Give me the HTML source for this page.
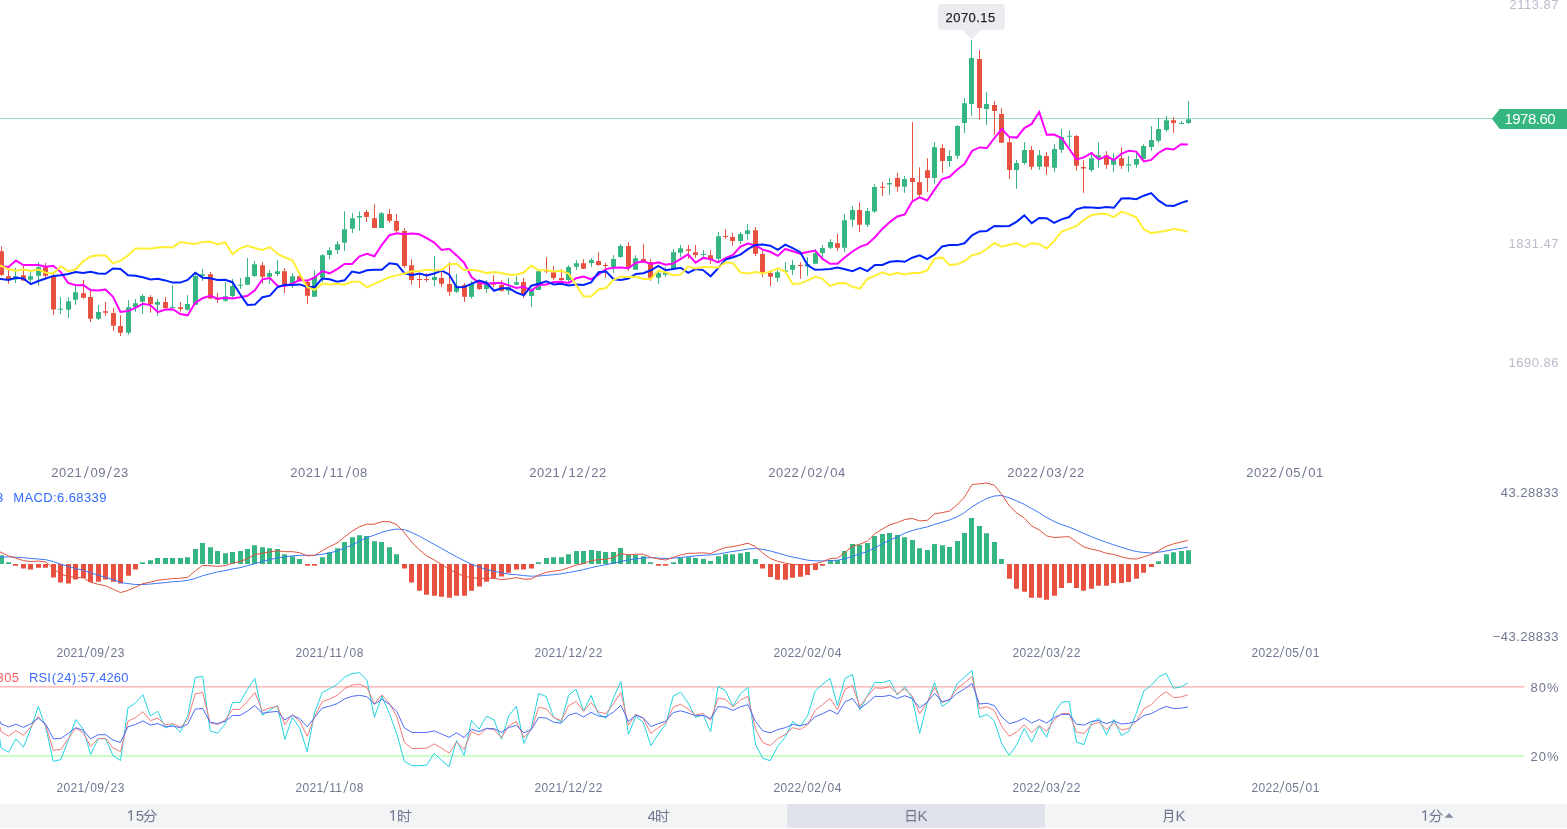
<!DOCTYPE html>
<html><head><meta charset="utf-8"><title>K-line</title>
<style>
html,body{margin:0;padding:0;background:#fff;overflow:hidden}
body{width:1567px;height:829px;position:relative;font-family:"Liberation Sans",sans-serif}
svg{position:absolute;left:0;top:0;display:block;will-change:transform}
svg text{font-family:"Liberation Sans",sans-serif}
</style></head>
<body>
<svg width="1567" height="829" viewBox="0 0 1567 829">
<path d="M15.5 268V283M30.5 272.1V284.2M38.5 262.1V285.8M60.5 297.1V313.9M68.5 297.1V317.9M75.5 286.2V304.9M98.5 305.1V320M128.5 300.2V334.7M135.5 299.2V311.7M142.5 294.1V313.9M157.5 299.2V315.8M172.5 285.1V308.1M187.5 295.1V310.7M195.5 272.1V305.1M202.5 269.1V280.8M225.5 282.1V301.9M232.5 279V297.8M240.5 278V288.9M247.5 258.2V285M254.5 261.1V277.1M269.5 270.1V283.8M277.5 260.1V276.1M292.5 273.1V288M314.5 270.1V296.8M322.5 254.2V281.8M329.5 247.1V259.1M337.5 241.2V254M344.5 211.3V250.9M352.5 213.2V233M359.5 211.3V230.9M381.5 212.1V227.9M434.5 256V285.9M456.5 274.2V293M471.5 281.2V298.8M486.5 280.2V293M508.5 278V294.9M516.5 276.2V284.8M531.5 288.2V306.8M538.5 269.1V289.9M568.5 265.2V281.8M576.5 260.1V269.9M591.5 258.2V266.8M613.5 255.2V272.9M620.5 244.1V257.8M635.5 255.2V269.7M658.5 271.6V283.8M665.5 267.1V276.7M673.5 249.2V269.1M680.5 245V256.9M703.5 250.1V256.9M718.5 232V261.1M740.5 232V243.9M747.5 224V239.9M777.5 270.1V281.8M785.5 262.1V273.9M792.5 260.2V274.9M807.5 257.1V275.8M815.5 249.2V263.8M822.5 245.1V257M830.5 239.1V249M844.5 214.2V251.9M852.5 206.3V227M867.5 208.2V227M874.5 184.1V212.9M889.5 178.1V194.7M904.5 176.2V192.8M934.5 142.1V183.9M949.5 150.2V167M957.5 125.2V158.9M964.5 98.2V133M971.5 40.1V115.8M986.5 92.2V124.9M1016.5 160.1V188.8M1024.5 142.2V164.8M1039.5 150.1V169.9M1054.5 144.2V171.8M1061.5 129.1V152.9M1069.5 130.2V146.9M1091.5 153.9V171.8M1098.5 142.2V167.7M1113.5 153.2V171.8M1128.5 156.1V171.8M1136.5 153.2V167.7M1143.5 144.2V159.1M1151.5 126.2V150.7M1158.5 118.1V142.8M1166.5 116.1V131.9M1181.5 121.1V123.9M1188.5 101.3V123.9" stroke="#35b581" stroke-width="1" fill="none"/>
<path d="M1.5 246.3V275.9M8.5 269.3V283.8M23.5 265.7V280.8M45.5 262.9V277.8M53.5 272.1V314.9M83.5 280V298.7M90.5 290V322M105.5 302V315.8M113.5 308.1V330.9M120.5 315.2V336M150.5 295.1V312.7M165.5 297.1V308.9M180.5 302V311.7M210.5 272V299.1M217.5 293V302.9M262.5 262.1V283.8M284.5 268.2V293M299.5 272.3V281.8M307.5 279.3V303.8M366.5 210V222M374.5 204.1V227.9M389.5 209.2V223M396.5 214.1V232.6M404.5 228.1V267.8M411.5 259.1V284.8M419.5 273.5V288M426.5 273.1V281.8M441.5 270.1V287M449.5 262.1V295.9M464.5 283.1V301.9M479.5 279.9V289.9M493.5 275.2V287M501.5 280.2V291.8M523.5 278V297.8M546.5 257.2V273.1M553.5 266.1V279.9M561.5 269.1V281.2M583.5 259.1V269.1M598.5 252.2V265.9M605.5 262.9V277.7M628.5 242.2V270.7M643.5 244.1V262.7M650.5 259.1V280.8M688.5 245V258.8M695.5 245V257.8M710.5 250.1V263.9M725.5 229.2V238.7M732.5 233V245.8M755.5 227.1V256M762.5 250.5V277M770.5 270.1V285.9M800.5 262.1V278.8M837.5 234.1V250.9M859.5 202.3V232.1M882.5 182V196M897.5 173V191.8M912.5 122.1V202M919.5 167.3V197.6M927.5 158.2V191.8M942.5 144.2V173M979.5 50.1V119.8M994.5 101.1V134.8M1001.5 108.2V142.7M1009.5 138V178.9M1031.5 146V169.9M1046.5 152.1V174.8M1076.5 135V170.8M1083.5 160.1V192.9M1106.5 151.1V168.9M1121.5 147.2V168.9M1173.5 117.1V132.8" stroke="#e8503f" stroke-width="1" fill="none"/>
<path d="M13 276.3h5V279.4h-5zM28 276.3h5V279.8h-5zM36 267.2h5V275.7h-5zM58 308.8h5V309.8h-5zM66 301.2h5V309.8h-5zM73 292.2h5V299.8h-5zM96 312.1h5V318.8h-5zM126 307.3h5V332.8h-5zM133 303.2h5V307.3h-5zM140 296.1h5V301.8h-5zM155 302.1h5V304.8h-5zM170 306.9h5V307.9h-5zM185 304.1h5V309.8h-5zM193 275.9h5V304.7h-5zM200 274.2h5V275.7h-5zM223 296.2h5V300.8h-5zM230 285.9h5V295.9h-5zM238 284.7h5V285.7h-5zM245 277.1h5V284.8h-5zM252 264.2h5V276.1h-5zM267 273.1h5V276.7h-5zM275 271.2h5V273.9h-5zM290 276.2h5V283.8h-5zM312 277.1h5V296.8h-5zM320 255.2h5V277.7h-5zM327 250.3h5V255h-5zM335 244.2h5V249.9h-5zM342 229.2h5V242.8h-5zM350 218.2h5V228.8h-5zM357 216.1h5V217.6h-5zM379 213.2h5V227.9h-5zM432 277.1h5V279.9h-5zM454 285.9h5V291.8h-5zM469 283.8h5V296.8h-5zM484 282.5h5V288.9h-5zM506 287.3h5V290.8h-5zM514 282.2h5V284.8h-5zM529 289.9h5V295.9h-5zM536 271.2h5V289.9h-5zM566 267.1h5V279.9h-5zM574 263.2h5V266.8h-5zM589 260.1h5V262.9h-5zM611 259.1h5V267.1h-5zM618 246h5V256.9h-5zM633 258.2h5V269.7h-5zM656 273.1h5V277.7h-5zM663 272.3h5V274.8h-5zM671 252.2h5V268.4h-5zM678 248.2h5V252.8h-5zM701 254h5V255h-5zM716 236.2h5V258.8h-5zM738 234.1h5V240.9h-5zM745 230.2h5V233.9h-5zM775 272.3h5V277.7h-5zM783 270.4h5V271.7h-5zM790 265.1h5V269.8h-5zM805 264.1h5V266.6h-5zM813 253.2h5V263.8h-5zM820 248.1h5V252.9h-5zM828 242.1h5V247.8h-5zM842 220.2h5V247.8h-5zM850 210.1h5V219.7h-5zM865 211.1h5V224.8h-5zM872 187.1h5V211.6h-5zM887 183h5V184.5h-5zM902 179h5V186.8h-5zM932 147.2h5V177.9h-5zM947 156.1h5V160.9h-5zM955 126.1h5V155.7h-5zM962 103.3h5V122.9h-5zM969 58h5V104.1h-5zM984 104.1h5V108.9h-5zM1014 163.1h5V169.9h-5zM1022 150.1h5V162.9h-5zM1037 155.2h5V166.7h-5zM1052 149.1h5V167.7h-5zM1059 137.1h5V149.7h-5zM1067 135.8h5V136.8h-5zM1089 158.2h5V169.9h-5zM1096 155.2h5V157.8h-5zM1111 160.1h5V164.8h-5zM1126 164.2h5V165.4h-5zM1134 159.1h5V164.8h-5zM1141 146h5V159.1h-5zM1149 140.1h5V146.9h-5zM1156 129.1h5V140.8h-5zM1164 120.2h5V129.9h-5zM1179 122.9h5V123.9h-5zM1186 119.2h5V123h-5z" fill="#35b581"/>
<path d="M-1 251.2h5V274.9h-5zM6 276.3h5V279.1h-5zM21 275.3h5V280.4h-5zM43 267.2h5V275.7h-5zM51 276.2h5V309.6h-5zM81 293.2h5V297.7h-5zM88 297.1h5V318.8h-5zM103 311.2h5V312.7h-5zM111 313h5V325.8h-5zM118 326h5V332.8h-5zM148 297.1h5V304.1h-5zM163 302.1h5V307.9h-5zM178 307.3h5V308.9h-5zM208 274.2h5V298.5h-5zM215 297.8h5V299.7h-5zM260 265.2h5V276.7h-5zM282 271.2h5V285.7h-5zM297 276.2h5V280.6h-5zM305 282.1h5V295.7h-5zM364 212.1h5V216.9h-5zM372 218.2h5V227.9h-5zM387 214.1h5V220.8h-5zM394 221.1h5V230.7h-5zM402 231.1h5V265.9h-5zM409 265.2h5V279.9h-5zM417 279h5V280h-5zM424 279h5V280h-5zM439 278h5V283.8h-5zM447 284h5V291.8h-5zM462 285h5V296.8h-5zM477 282.5h5V288.9h-5zM491 283.7h5V284.7h-5zM499 285h5V290.8h-5zM521 282.1h5V294.9h-5zM544 270.1h5V271.6h-5zM551 272.3h5V278h-5zM559 278h5V279.9h-5zM581 263.2h5V268.8h-5zM596 261.1h5V265h-5zM603 264.9h5V265.9h-5zM626 246h5V267.8h-5zM641 259.1h5V262h-5zM648 262.1h5V277.7h-5zM686 249.2h5V250.8h-5zM693 252.2h5V255h-5zM708 255.2h5V259.8h-5zM723 236.1h5V237.1h-5zM730 237.1h5V240.9h-5zM753 230.2h5V253.7h-5zM760 254.1h5V272h-5zM768 273.1h5V276.7h-5zM798 265h5V266h-5zM835 243.2h5V247.8h-5zM857 210.1h5V224.8h-5zM880 186.8h5V187.8h-5zM895 178.1h5V186.8h-5zM910 178.1h5V182h-5zM917 182.2h5V194.7h-5zM925 170.2h5V177.9h-5zM940 148.1h5V160.9h-5zM977 59.1h5V107.9h-5zM992 105.1h5V110.9h-5zM999 114h5V142.7h-5zM1007 142.2h5V169.9h-5zM1029 150.1h5V166.7h-5zM1044 156.1h5V166.7h-5zM1074 136h5V165.8h-5zM1081 167.1h5V168.6h-5zM1104 155.2h5V164.8h-5zM1119 158.2h5V165.8h-5zM1171 120.2h5V123h-5z" fill="#e8503f"/>
<rect x="0" y="118" width="1500" height="1" fill="#35b581" fill-opacity="0.5"/>
<polyline points="-6.5,266.3 1,266.3 8.5,267 15.9,260.6 23.4,265.1 30.9,265.1 38.3,265.1 45.8,266.7 53.3,265.7 60.8,272.1 68.2,283 75.7,285.3 83.2,284.9 90.6,290 98.1,290.6 105.6,289.6 113,296.8 120.5,312 128,311.1 135.4,307.9 142.9,303.7 150.4,305.1 157.8,312.1 165.3,309.6 172.8,309.2 180.3,314 187.7,315.3 195.2,302.8 202.7,298.2 210.1,295.7 217.6,298.7 225.1,297.8 232.5,298.5 240,297.2 247.5,295.7 254.9,290.2 262.4,279.3 269.9,278 277.4,285.7 284.8,285.9 292.3,283.8 299.8,279.9 307.2,280.8 314.7,277.4 322.2,271 329.6,273.3 337.1,269.1 344.6,263.9 352,263.9 359.5,256.3 367,253.7 374.4,256.3 381.9,244.8 389.4,235.2 396.9,233.2 404.3,234.3 411.8,233.5 419.3,234.3 426.7,238.1 434.2,242.6 441.7,249.9 449.1,248.8 456.6,255.4 464.1,262.7 471.5,277.1 479,282.7 486.5,283.8 494,283.1 501.4,283.1 508.9,285.4 516.4,288 523.8,286.7 531.3,290.8 538.8,285 546.2,284.4 553.7,282.1 561.2,281.8 568.6,282.9 576.1,278.3 583.6,276.5 591.1,279.3 598.5,274.6 606,269.1 613.5,267.8 620.9,267.5 628.4,268.2 635.9,262.7 643.3,261.4 650.8,263.9 658.3,262.4 665.7,264.8 673.2,263.6 680.7,258.8 688.1,254.3 695.6,262.7 703.1,257.9 710.6,259.1 718,262.4 725.5,258.2 733,255 740.4,246.7 747.9,243.5 755.4,245.4 762.8,249.6 770.3,251.8 777.8,255.9 785.2,249 792.7,251.3 800.2,253.6 807.7,251.9 815.1,250.6 822.6,258.9 830.1,263.8 837.5,263.8 845,257.3 852.5,251.5 859.9,246.8 867.4,244.2 874.9,237.2 882.3,228.9 889.8,222.1 897.3,216.5 904.7,214.4 912.2,201.4 919.7,197.3 927.2,200.5 934.6,189.6 942.1,179 949.6,176.8 957,169.8 964.5,164.1 972,150.9 979.4,147.4 986.9,148 994.4,138 1001.8,129 1009.3,137.1 1016.8,137.6 1024.3,128.1 1031.7,123.9 1039.2,112 1046.7,134.8 1054.1,134.5 1061.6,138 1069.1,148.8 1076.5,159.4 1084,157.4 1091.5,152.9 1098.9,159.4 1106.4,156.1 1113.9,160.1 1121.4,153.9 1128.8,150.7 1136.3,151.6 1143.8,161.4 1151.2,159.9 1158.7,152.7 1166.2,148.6 1173.6,149.5 1181.1,144.3 1187.8,144.6" fill="none" stroke="#ff00ff" stroke-width="2" stroke-linejoin="miter" stroke-miterlimit="10" stroke-linecap="butt" />
<polyline points="-6.5,278.9 1,278.9 8.5,280 15.9,277.8 23.4,278.5 30.9,284.2 38.3,281 45.8,278.5 53.3,275.9 60.8,275.3 68.2,274 75.7,272.1 83.2,273 90.6,271.8 98.1,273.4 105.6,273.7 113,268.5 120.5,268.9 128,275.3 135.4,275.7 142.9,277.2 150.4,279.4 157.8,278.7 165.3,280.4 172.8,282.6 180.3,282.6 187.7,280 195.2,272.7 202.7,277.7 210.1,278.3 217.6,279.9 225.1,279.7 232.5,282.2 240,294 247.5,304.9 254.9,304.6 262.4,297.2 269.9,295.7 277.4,287.3 284.8,284.7 292.3,285 299.8,284.4 307.2,287 314.7,287 322.2,278.6 329.6,279.3 337.1,281.8 344.6,280.3 352,271.6 359.5,272.9 367,270.3 374.4,269.7 381.9,269.7 389.4,263.3 396.9,264.2 404.3,273.1 411.8,275.2 419.3,273.5 426.7,275.4 434.2,273.5 441.7,270.6 449.1,274.4 456.6,287.2 464.1,287 471.5,283.8 479,280.6 486.5,282.7 494,290.8 501.4,288.2 508.9,288.2 516.4,292.7 523.8,295.3 531.3,285.7 538.8,283.8 546.2,281.2 553.7,284.4 561.2,283.8 568.6,285.4 576.1,284.4 583.6,285 591.1,282.5 598.5,272.3 606,271.4 613.5,279.3 620.9,279.9 628.4,278.6 635.9,273.9 643.3,273.3 650.8,270.3 658.3,265.9 665.7,270.3 673.2,269.1 680.7,267.8 688.1,272.9 695.6,269.1 703.1,270.1 710.6,276.3 718,268.4 725.5,259.5 733,257.2 740.4,254.6 747.9,249.2 755.4,245 762.8,244.5 770.3,245.7 777.8,249.9 785.2,244.6 792.7,248.1 800.2,252.2 807.7,265.3 815.1,269.8 822.6,269.6 830.1,268.9 837.5,267.6 845,269.2 852.5,271.1 859.9,267.9 867.4,271.1 874.9,264.9 882.3,264.9 889.8,261.8 897.3,260.9 904.7,261.8 912.2,257.7 919.7,255.4 927.2,259.2 934.6,254.5 942.1,246.4 949.6,245.1 957,245.1 964.5,243.3 972,235.3 979.4,231.4 986.9,230.9 994.4,225.9 1001.8,226.3 1009.3,225.9 1016.8,221.6 1024.3,215.4 1031.7,223.1 1039.2,217.9 1046.7,218.2 1054.1,222.8 1061.6,219.4 1069.1,217 1076.5,209.3 1084,207.2 1091.5,207.5 1098.9,208.1 1106.4,206.9 1113.9,207.8 1121.4,198.6 1128.8,198.3 1136.3,199.2 1143.8,195.7 1151.2,193.1 1158.7,200.6 1166.2,205.6 1173.6,205.9 1181.1,202.9 1187.8,200.8" fill="none" stroke="#0022ff" stroke-width="2" stroke-linejoin="miter" stroke-miterlimit="10" stroke-linecap="butt" />
<polyline points="-6.5,273 1,265.7 8.5,269.3 15.9,270.8 23.4,269.5 30.9,271.1 38.3,269.5 45.8,272.7 53.3,273.4 60.8,266.3 68.2,271.4 75.7,269.3 83.2,261.2 90.6,256.5 98.1,255.2 105.6,255.5 113,263.4 120.5,260.6 128,255.5 135.4,248.4 142.9,248.4 150.4,248.8 157.8,247.4 165.3,246.9 172.8,247.4 180.3,242 187.7,243.3 195.2,244 202.7,241.9 210.1,241.6 217.6,244.4 225.1,242.2 232.5,254.3 240,248.3 247.5,245.8 254.9,248 262.4,249.9 269.9,247.1 277.4,253.7 284.8,257.5 292.3,260.1 299.8,274.2 307.2,287 314.7,289.9 322.2,283.5 329.6,284.4 337.1,283.8 344.6,284.8 352,281.8 359.5,281.8 367,287.3 374.4,283.8 381.9,280.6 389.4,277.1 396.9,275.4 404.3,273.5 411.8,271.2 419.3,271.2 426.7,269.7 434.2,270.6 441.7,270.1 449.1,264.3 456.6,263.7 464.1,269.9 471.5,269.7 479,270.7 486.5,273.1 494,271.9 501.4,273.1 508.9,274.8 516.4,274.8 523.8,272.5 531.3,265.6 538.8,270.3 546.2,270.3 553.7,271.6 561.2,270.7 568.6,273.5 576.1,285 583.6,296.5 591.1,296.5 598.5,289.5 606,288 613.5,279.9 620.9,276.7 628.4,277.1 635.9,276.7 643.3,278.9 650.8,278.9 658.3,270.7 665.7,272.3 673.2,275.2 680.7,274.6 688.1,266.5 695.6,268.4 703.1,267.1 710.6,266.9 718,267.8 725.5,262.3 733,263.3 740.4,272.5 747.9,273.5 755.4,271.9 762.8,273.5 770.3,271.6 777.8,268.4 785.2,271.5 792.7,283.9 800.2,283.6 807.7,280.4 815.1,276.8 822.6,278.8 830.1,286.2 837.5,283.2 845,282.9 852.5,286.8 859.9,288.7 867.4,278.8 874.9,275.8 882.3,272.4 889.8,274.9 897.3,272.7 904.7,274.5 912.2,273 919.7,273 927.2,270.4 934.6,258.7 942.1,257.4 949.6,265.1 957,264.3 964.5,261.2 972,255.1 979.4,253.6 986.9,248.8 994.4,243 1001.8,246.8 1009.3,244.7 1016.8,243.2 1024.3,247 1031.7,243.2 1039.2,243.9 1046.7,248.5 1054.1,241.2 1061.6,231.5 1069.1,228.9 1076.5,225.9 1084,219.7 1091.5,215.1 1098.9,213.9 1106.4,213.9 1113.9,217.1 1121.4,211.6 1128.8,214.1 1136.3,217.4 1143.8,229.2 1151.2,233.1 1158.7,232 1166.2,230.8 1173.6,228.9 1181.1,230 1187.8,231.8" fill="none" stroke="#ffee33" stroke-width="2" stroke-linejoin="miter" stroke-miterlimit="10" stroke-linecap="butt" />
<path d="M-1 555.3h5V564h-5zM6 562.2h5V564h-5zM140 562.2h5V564h-5zM148 560.2h5V564h-5zM155 558.1h5V564h-5zM163 558.1h5V564h-5zM170 558.1h5V564h-5zM178 558.1h5V564h-5zM185 557.2h5V564h-5zM193 549.1h5V564h-5zM200 543.1h5V564h-5zM208 547.2h5V564h-5zM215 551h5V564h-5zM223 553.2h5V564h-5zM230 552.1h5V564h-5zM238 551h5V564h-5zM245 549.1h5V564h-5zM252 545.2h5V564h-5zM260 547.2h5V564h-5zM267 548.2h5V564h-5zM275 549.1h5V564h-5zM282 554.2h5V564h-5zM290 556.2h5V564h-5zM297 559.1h5V564h-5zM320 557.2h5V564h-5zM327 552.3h5V564h-5zM335 548.2h5V564h-5zM342 542.1h5V564h-5zM350 537.2h5V564h-5zM357 535.2h5V564h-5zM364 536.1h5V564h-5zM372 541.2h5V564h-5zM379 542.1h5V564h-5zM387 547.2h5V564h-5zM394 554.2h5V564h-5zM536 562.2h5V564h-5zM544 558.1h5V564h-5zM551 557.2h5V564h-5zM559 557.2h5V564h-5zM566 554.2h5V564h-5zM574 551h5V564h-5zM581 551h5V564h-5zM589 550h5V564h-5zM596 551h5V564h-5zM603 552.1h5V564h-5zM611 552.1h5V564h-5zM618 548.1h5V564h-5zM626 554.2h5V564h-5zM633 554.9h5V564h-5zM641 556.2h5V564h-5zM648 562.2h5V564h-5zM671 562.2h5V564h-5zM678 558.1h5V564h-5zM686 557.2h5V564h-5zM693 558.1h5V564h-5zM701 559.1h5V564h-5zM708 561h5V564h-5zM716 556.2h5V564h-5zM723 554.2h5V564h-5zM730 554.2h5V564h-5zM738 553.2h5V564h-5zM745 552.1h5V564h-5zM753 559.1h5V564h-5zM828 559.9h5V564h-5zM835 559.9h5V564h-5zM842 551h5V564h-5zM850 543.9h5V564h-5zM857 545h5V564h-5zM865 542.9h5V564h-5zM872 536h5V564h-5zM880 534.1h5V564h-5zM887 533.1h5V564h-5zM895 535h5V564h-5zM902 537.2h5V564h-5zM910 540.1h5V564h-5zM917 548.2h5V564h-5zM925 550.1h5V564h-5zM932 543.9h5V564h-5zM940 545.2h5V564h-5zM947 547.1h5V564h-5zM955 541.1h5V564h-5zM962 533.1h5V564h-5zM969 518.1h5V564h-5zM977 526h5V564h-5zM984 533.2h5V564h-5zM992 542h5V564h-5zM999 559.1h5V564h-5zM1156 561.3h5V564h-5zM1164 554.2h5V564h-5zM1171 552.2h5V564h-5zM1179 551.1h5V564h-5zM1186 550.2h5V564h-5z" fill="#35b581"/>
<path d="M13 564h5V565.7h-5zM21 564h5V568.6h-5zM28 564h5V569.6h-5zM36 564h5V567.7h-5zM43 564h5V567.7h-5zM51 564h5V577.6h-5zM58 564h5V582.6h-5zM66 564h5V583.6h-5zM73 564h5V579.6h-5zM81 564h5V577.9h-5zM88 564h5V582.1h-5zM96 564h5V581.7h-5zM103 564h5V579.6h-5zM111 564h5V581.7h-5zM118 564h5V583.6h-5zM126 564h5V575.7h-5zM133 564h5V569.6h-5zM305 564h5V565.7h-5zM312 564h5V565.7h-5zM402 564h5V568.6h-5zM409 564h5V582.6h-5zM417 564h5V590.7h-5zM424 564h5V594.8h-5zM432 564h5V595.8h-5zM439 564h5V596.8h-5zM447 564h5V597.7h-5zM454 564h5V595.8h-5zM462 564h5V595.8h-5zM469 564h5V590.7h-5zM477 564h5V586.6h-5zM484 564h5V581.7h-5zM491 564h5V578.5h-5zM499 564h5V576.6h-5zM506 564h5V572.8h-5zM514 564h5V569.6h-5zM521 564h5V569.6h-5zM529 564h5V568.6h-5zM656 564h5V565.7h-5zM663 564h5V565.7h-5zM760 564h5V568.6h-5zM768 564h5V576.9h-5zM775 564h5V579.8h-5zM783 564h5V579.7h-5zM790 564h5V577.8h-5zM798 564h5V576.8h-5zM805 564h5V574.9h-5zM813 564h5V569.9h-5zM820 564h5V565.7h-5zM1007 564h5V578.8h-5zM1014 564h5V588.7h-5zM1022 564h5V591.7h-5zM1029 564h5V597.8h-5zM1037 564h5V597.8h-5zM1044 564h5V599.8h-5zM1052 564h5V595.8h-5zM1059 564h5V587.9h-5zM1067 564h5V582.9h-5zM1074 564h5V587.9h-5zM1081 564h5V590.7h-5zM1089 564h5V588.8h-5zM1096 564h5V585.8h-5zM1104 564h5V585.8h-5zM1111 564h5V582.9h-5zM1119 564h5V582.9h-5zM1126 564h5V581.9h-5zM1134 564h5V578.8h-5zM1141 564h5V572.7h-5zM1149 564h5V567h-5z" fill="#e8503f"/>
<polyline points="-6.5,557.4 1,557.2 8.5,556.8 15.9,557.2 23.4,557.7 30.9,558.5 38.3,559 45.8,559.7 53.3,561.6 60.8,564.2 68.2,566.4 75.7,568.6 83.2,570.2 90.6,572.8 98.1,575.1 105.6,577.3 113,579.6 120.5,582.4 128,583.6 135.4,584.5 142.9,584.5 150.4,584 157.8,583.3 165.3,582.6 172.8,581.7 180.3,581.3 187.7,580.4 195.2,578.5 202.7,575.7 210.1,573.8 217.6,571.9 225.1,570.6 232.5,568.9 240,567.7 247.5,565.7 254.9,563.6 262.4,561.5 269.9,559.7 277.4,557.8 284.8,556.8 292.3,555.9 299.8,555.3 307.2,555.3 314.7,555.3 322.2,554.2 329.6,553 337.1,551 344.6,548.2 352,545 359.5,541.2 367,537.6 374.4,535.1 381.9,532.2 389.4,530.2 396.9,529 404.3,529.7 411.8,532.5 419.3,536.1 426.7,540.2 434.2,544.4 441.7,548.5 449.1,552.7 456.6,556.8 464.1,560.6 471.5,564.2 479,567 486.5,569.6 494,571.2 501.4,572.8 508.9,574.1 516.4,574.7 523.8,575.6 531.3,576.2 538.8,576 546.2,575.3 553.7,574.7 561.2,573.8 568.6,572.5 576.1,571.1 583.6,569.6 591.1,567.7 598.5,566 606,564.7 613.5,563.2 620.9,561.3 628.4,560 635.9,558.8 643.3,558.1 650.8,557.7 658.3,558.1 665.7,558.5 673.2,558.1 680.7,557.4 688.1,556.7 695.6,555.9 703.1,555.3 710.6,554.9 718,554 725.5,552.7 733,551.4 740.4,550.4 747.9,549 755.4,548.5 762.8,549.4 770.3,551 777.8,553 785.2,555.2 792.7,557.1 800.2,558.6 807.7,560.2 815.1,560.8 822.6,560.9 830.1,560.6 837.5,560.2 845,558.9 852.5,556.3 859.9,553.8 867.4,551.6 874.9,547.8 882.3,543.9 889.8,540.1 897.3,536.9 904.7,533.3 912.2,530.5 919.7,528.6 927.2,526.9 934.6,524.4 942.1,522.2 949.6,519.9 957,516.8 964.5,512.6 972,506.9 979.4,502.4 986.9,498.5 994.4,496 1001.8,495.5 1009.3,497.9 1016.8,501 1024.3,504.3 1031.7,508.6 1039.2,512.7 1046.7,517.5 1054.1,521.5 1061.6,524.5 1069.1,527.1 1076.5,530.2 1084,533.5 1091.5,536.7 1098.9,539.6 1106.4,542.3 1113.9,544.9 1121.4,547.3 1128.8,549.6 1136.3,551.5 1143.8,552.5 1151.2,553 1158.7,552.2 1166.2,551 1173.6,549.6 1181.1,548.4 1187.8,547.1" fill="none" stroke="#3b78f7" stroke-width="1" stroke-linejoin="miter" stroke-miterlimit="10" stroke-linecap="butt" />
<polyline points="-6.5,548.9 1,552.3 8.5,555.9 15.9,558.1 23.4,560.6 30.9,561.6 38.3,561 45.8,561.9 53.3,568.6 60.8,574.1 68.2,576.4 75.7,577.3 83.2,577.9 90.6,582.1 98.1,584.3 105.6,585.8 113,589.1 120.5,592.6 128,590.4 135.4,587.2 142.9,583.6 150.4,582.1 157.8,580.2 165.3,579.4 172.8,578.5 180.3,578.3 187.7,577.3 195.2,570.9 202.7,565.4 210.1,565.7 217.6,566.4 225.1,565.7 232.5,563.2 240,561.6 247.5,558.7 254.9,554.5 262.4,553.3 269.9,551.9 277.4,550.7 284.8,551.7 292.3,551.7 299.8,552.7 307.2,555.9 314.7,555.3 322.2,550.7 329.6,546.6 337.1,543 344.6,537 352,531.2 359.5,526.7 367,524.2 374.4,524.2 381.9,521.6 389.4,521.6 396.9,524.8 404.3,532.5 411.8,542.1 419.3,549.8 426.7,555.9 434.2,560 441.7,564.5 449.1,569.6 456.6,572.8 464.1,576.4 471.5,577.5 479,578.5 486.5,578.5 494,578.3 501.4,579.6 508.9,578.9 516.4,577.6 523.8,579.2 531.3,578.9 538.8,575.1 546.2,572.4 553.7,571.1 561.2,570.2 568.6,567.7 576.1,565.1 583.6,563.6 591.1,560.6 598.5,559.7 606,559.3 613.5,557.4 620.9,553.6 628.4,554.9 635.9,554.2 643.3,554.2 650.8,557.2 658.3,559 665.7,560 673.2,557.4 680.7,554.9 688.1,553.3 695.6,553.2 703.1,552.8 710.6,553.6 718,550.1 725.5,547.6 733,546.6 740.4,545 747.9,543.2 755.4,546.6 762.8,553 770.3,558.5 777.8,561.3 785.2,563.1 792.7,564.4 800.2,564.8 807.7,564.8 815.1,563.8 822.6,561.6 830.1,558.6 837.5,558 845,552.3 852.5,546.2 859.9,544.2 867.4,541.1 874.9,533.7 882.3,529 889.8,524.8 897.3,522.6 904.7,519.6 912.2,518.4 919.7,520.9 927.2,520.3 934.6,513.9 942.1,512.6 949.6,511.1 957,504.9 964.5,497 972,484.5 979.4,483.8 986.9,483 994.4,485.3 1001.8,494.4 1009.3,505.8 1016.8,513.1 1024.3,518 1031.7,525.9 1039.2,529.9 1046.7,535.9 1054.1,537.5 1061.6,537 1069.1,536.7 1076.5,542 1084,547 1091.5,549.2 1098.9,550.7 1106.4,553.3 1113.9,554.5 1121.4,556.8 1128.8,558.6 1136.3,559.1 1143.8,556.8 1151.2,554.5 1158.7,550.7 1166.2,546.4 1173.6,543.8 1181.1,542 1187.8,540.5" fill="none" stroke="#e0533f" stroke-width="1" stroke-linejoin="miter" stroke-miterlimit="10" stroke-linecap="butt" />
<rect x="0" y="686" width="1524.5" height="1.6" fill="#ffbcbc"/>
<rect x="0" y="755.2" width="1524.5" height="1.6" fill="#bdfcbd"/>
<polyline points="-6.5,695.3 1,747.9 8.5,752.3 15.9,738.8 23.4,747.2 30.9,728.6 38.3,706.3 45.8,727.7 53.3,761.3 60.8,759.6 68.2,740.4 75.7,719.6 83.2,728.9 90.6,754.5 98.1,738.8 105.6,738.8 113,755.5 120.5,760.5 128,707.8 135.4,703.1 142.9,694.7 150.4,715.9 157.8,711.3 165.3,727.9 172.8,724.5 180.3,732.4 187.7,715.5 195.2,677.4 202.7,676.5 210.1,730.9 217.6,733.2 225.1,724.1 232.5,702.5 240,702.3 247.5,689.3 254.9,678.4 262.4,715.3 269.9,709.8 277.4,705.5 284.8,739.4 292.3,717.4 299.8,728.3 307.2,751.6 314.7,712.3 322.2,692.5 329.6,688.7 337.1,684.4 344.6,677.1 352,673.6 359.5,672.7 367,680.3 374.4,717.4 381.9,696.1 389.4,713.6 396.9,734.1 404.3,761.3 411.8,765.6 419.3,765.8 426.7,765.1 434.2,753.5 441.7,760.3 449.1,766.7 456.6,740.4 464.1,755.5 471.5,720.4 479,729.2 486.5,716.4 494,719.7 501.4,739.2 508.9,715.5 516.4,706.3 523.8,743.3 531.3,727.7 538.8,693.4 546.2,696.6 553.7,717.4 561.2,722.2 568.6,695.1 576.1,689.3 583.6,711 591.1,695.4 598.5,714.2 606,718.1 613.5,697.6 620.9,681.4 628.4,734.4 635.9,716.2 643.3,722.5 650.8,745.6 658.3,734.1 665.7,724.5 673.2,696.1 680.7,692.2 688.1,703 695.6,717.4 703.1,714.9 710.6,731.5 718,686.5 725.5,690.8 733,706.2 740.4,693.8 747.9,687.4 755.4,744.3 762.8,758.4 770.3,760.7 777.8,746.2 785.2,737.3 792.7,721.6 800.2,726.4 807.7,715.5 815.1,691.2 822.6,684.2 830.1,678.4 837.5,705.9 845,678.4 852.5,674.6 859.9,709.8 867.4,695.7 874.9,682.3 882.3,682.6 889.8,680.3 897.3,695.1 904.7,686.7 912.2,698.2 919.7,733.4 927.2,703.4 934.6,682.6 942.1,706.6 949.6,701.2 957,683.9 964.5,677.1 972,670.5 979.4,717.4 986.9,714.4 994.4,721.2 1001.8,743.9 1009.3,755.3 1016.8,744.6 1024.3,728.5 1031.7,742.2 1039.2,726.1 1046.7,737.3 1054.1,713.4 1061.6,702.2 1069.1,701.5 1076.5,742.2 1084,744.6 1091.5,722.8 1098.9,718.1 1106.4,735.2 1113.9,719.5 1121.4,735.5 1128.8,731.3 1136.3,713.4 1143.8,691 1151.2,685.4 1158.7,676.9 1166.2,673.4 1173.6,688.2 1181.1,687 1187.8,683" fill="none" stroke="#22d3e0" stroke-width="1" stroke-linejoin="miter" stroke-miterlimit="10" stroke-linecap="butt" />
<polyline points="-6.5,704.3 1,731.5 8.5,736.2 15.9,730.5 23.4,735.3 30.9,726.8 38.3,716.4 45.8,725.7 53.3,750.3 60.8,749.4 68.2,738.9 75.7,728.3 83.2,732.4 90.6,746.5 98.1,738.5 105.6,738.5 113,747.9 120.5,751.6 128,721.3 135.4,717.7 142.9,711.7 150.4,720.6 157.8,718.1 165.3,724.8 172.8,723.6 180.3,727 187.7,720 195.2,693.8 202.7,692.5 210.1,722.8 217.6,724.5 225.1,720 232.5,709.5 240,709.4 247.5,701.4 254.9,692.5 262.4,711 269.9,707.8 277.4,706.2 284.8,724.5 292.3,714.6 299.8,721.3 307.2,736.4 314.7,716.2 322.2,701.8 329.6,698.9 337.1,695.4 344.6,688.7 352,685.1 359.5,684.2 367,687.6 374.4,704 381.9,694.7 389.4,703.4 396.9,716.8 404.3,742.4 411.8,748.4 419.3,748.5 426.7,748.1 434.2,743.9 441.7,748.1 449.1,753.2 456.6,742.1 464.1,749.4 471.5,731.5 479,735.3 486.5,728.7 494,729.6 501.4,737.6 508.9,725.7 516.4,721.3 523.8,737.6 531.3,729.6 538.8,707.2 546.2,708.9 553.7,717.4 561.2,720.6 568.6,705.7 576.1,701.4 583.6,711.3 591.1,702.5 598.5,712.1 606,713.6 613.5,703.7 620.9,692.5 628.4,725.1 635.9,714.2 643.3,718.5 650.8,733.4 658.3,727.7 665.7,722.9 673.2,707.2 680.7,704.3 688.1,709.1 695.6,714.9 703.1,713.6 710.6,720.2 718,698 725.5,699.5 733,706.6 740.4,700.2 747.9,696.3 755.4,728.9 762.8,742.6 770.3,745.6 777.8,738.5 785.2,734.7 792.7,727.7 800.2,729.6 807.7,724.8 815.1,710.4 822.6,704.6 830.1,698.5 837.5,709.8 845,689.3 852.5,685.5 859.9,706.6 867.4,696.3 874.9,687.8 882.3,688.3 889.8,686.5 897.3,693.8 904.7,688.7 912.2,695.7 919.7,713.6 927.2,702.1 934.6,687.4 942.1,702.5 949.6,699.3 957,688.7 964.5,682.9 972,676.5 979.4,708.5 986.9,706.8 994.4,710.6 1001.8,726.4 1009.3,736.3 1016.8,731.7 1024.3,724.7 1031.7,732.7 1039.2,725.6 1046.7,731.3 1054.1,719.8 1061.6,713.7 1069.1,713.4 1076.5,732.1 1084,733.5 1091.5,724.7 1098.9,722.3 1106.4,729.6 1113.9,723 1121.4,729.9 1128.8,728.5 1136.3,721.2 1143.8,708.9 1151.2,704.6 1158.7,696.9 1166.2,691.7 1173.6,697.6 1181.1,697 1187.8,694.8" fill="none" stroke="#f47a7a" stroke-width="1" stroke-linejoin="miter" stroke-miterlimit="10" stroke-linecap="butt" />
<polyline points="-6.5,707.7 1,723.8 8.5,727 15.9,724.2 23.4,727.4 30.9,723.8 38.3,718.1 45.8,724.2 53.3,738.8 60.8,738.5 68.2,733.4 75.7,727.7 83.2,730.2 90.6,738.9 98.1,734.7 105.6,734.7 113,740.1 120.5,742.4 128,726.8 135.4,724.5 142.9,720.9 150.4,725.1 157.8,723.6 165.3,726.8 172.8,726.1 180.3,727.7 187.7,724.1 195.2,709.1 202.7,708.5 210.1,722.2 217.6,723.6 225.1,721.3 232.5,715.5 240,715.5 247.5,711 254.9,705.5 262.4,713.3 269.9,712.1 277.4,711.4 284.8,720 292.3,715.3 299.8,718.7 307.2,726.8 314.7,717.4 322.2,708.1 329.6,706.2 337.1,703.7 344.6,698.9 352,696.3 359.5,695.4 367,696.7 374.4,704.3 381.9,699.3 389.4,704.3 396.9,711.7 404.3,727.9 411.8,732.4 419.3,732.5 426.7,732.4 434.2,730.9 441.7,734.1 449.1,737.3 456.6,732.8 464.1,737.5 471.5,729.3 479,731.5 486.5,728.3 494,728.7 501.4,732.4 508.9,727.4 516.4,725.4 523.8,732.8 531.3,729.6 538.8,717.4 546.2,718.1 553.7,722.2 561.2,723.2 568.6,715.1 576.1,713 583.6,717 591.1,712.3 598.5,716.2 606,716.8 613.5,712.1 620.9,705.3 628.4,721.3 635.9,715.3 643.3,717.8 650.8,726.6 658.3,723.6 665.7,721.3 673.2,712.6 680.7,710.8 688.1,713 695.6,715.8 703.1,715.3 710.6,718.7 718,706.6 725.5,707.2 733,710.4 740.4,706.9 747.9,704.6 755.4,721.3 762.8,730.9 770.3,732.8 777.8,729.6 785.2,727.7 792.7,724.5 800.2,725.7 807.7,723.8 815.1,716.8 822.6,713.6 830.1,710.1 837.5,714.2 845,701.8 852.5,698.5 859.9,708.5 867.4,703.1 874.9,696.3 882.3,696.6 889.8,695.3 897.3,698.5 904.7,695.7 912.2,698.5 919.7,707.8 927.2,702.1 934.6,693.4 942.1,701.7 949.6,699.9 957,693.4 964.5,688.9 972,683.5 979.4,704 986.9,703.2 994.4,705.7 1001.8,716.9 1009.3,723.7 1016.8,721.6 1024.3,718.1 1031.7,723 1039.2,719.5 1046.7,723 1054.1,717.6 1061.6,714.4 1069.1,714.4 1076.5,724.2 1084,725.1 1091.5,721.4 1098.9,720.5 1106.4,723.7 1113.9,720.9 1121.4,724 1128.8,723.3 1136.3,721.2 1143.8,715.5 1151.2,713.7 1158.7,709.6 1166.2,706.4 1173.6,708.5 1181.1,708.2 1187.8,707" fill="none" stroke="#4a6cf7" stroke-width="1" stroke-linejoin="miter" stroke-miterlimit="10" stroke-linecap="butt" />
<text x="1559.0" y="8.8" font-size="13" fill="#b8bccb" text-anchor="end" letter-spacing="0.5" >2113.87</text>
<text x="1559.0" y="248" font-size="13" fill="#b8bccb" text-anchor="end" letter-spacing="0.5" >1831.47</text>
<text x="1559.0" y="367.1" font-size="13" fill="#b8bccb" text-anchor="end" letter-spacing="0.5" >1690.86</text>
<text x="1559.0" y="497" font-size="13" fill="#6f7690" text-anchor="end" letter-spacing="0.5" >43.28833</text>
<text x="1559.0" y="640.6" font-size="13" fill="#6f7690" text-anchor="end" letter-spacing="0.5" >−43.28833</text>
<text x="1559.4" y="692" font-size="13" fill="#6f7690" text-anchor="end" letter-spacing="0.95" >80%</text>
<text x="1559.4" y="760.6" font-size="13" fill="#6f7690" text-anchor="end" letter-spacing="0.95" >20%</text>
<text x="51.20" y="477" font-size="13" fill="#6f7690" text-anchor="start" letter-spacing="0.55" >2021</text>
<text x="90.40" y="477" font-size="13" fill="#6f7690" text-anchor="start" letter-spacing="0.55" >09</text>
<text x="113.20" y="477" font-size="13" fill="#6f7690" text-anchor="start" letter-spacing="0.55" >23</text>
<path d="M84.35 478.00L88.35 466.30" stroke="#6f7690" stroke-width="1.05" fill="none"/>
<path d="M107.35 478.00L111.35 466.30" stroke="#6f7690" stroke-width="1.05" fill="none"/>
<text x="56.45" y="656.8" font-size="12" fill="#6f7690" text-anchor="start" letter-spacing="0.38" >2021</text>
<text x="90.20" y="656.8" font-size="12" fill="#6f7690" text-anchor="start" letter-spacing="0.38" >09</text>
<text x="110.60" y="656.8" font-size="12" fill="#6f7690" text-anchor="start" letter-spacing="0.38" >23</text>
<path d="M84.90 657.80L89.10 645.90" stroke="#6f7690" stroke-width="1.0" fill="none"/>
<path d="M104.85 657.80L109.05 645.90" stroke="#6f7690" stroke-width="1.0" fill="none"/>
<text x="56.45" y="791.9" font-size="12" fill="#6f7690" text-anchor="start" letter-spacing="0.38" >2021</text>
<text x="90.20" y="791.9" font-size="12" fill="#6f7690" text-anchor="start" letter-spacing="0.38" >09</text>
<text x="110.60" y="791.9" font-size="12" fill="#6f7690" text-anchor="start" letter-spacing="0.38" >23</text>
<path d="M84.90 792.90L89.10 781.00" stroke="#6f7690" stroke-width="1.0" fill="none"/>
<path d="M104.85 792.90L109.05 781.00" stroke="#6f7690" stroke-width="1.0" fill="none"/>
<text x="290.20" y="477" font-size="13" fill="#6f7690" text-anchor="start" letter-spacing="0.55" >2021</text>
<text x="329.40" y="477" font-size="13" fill="#6f7690" text-anchor="start" letter-spacing="0.55" >11</text>
<text x="352.20" y="477" font-size="13" fill="#6f7690" text-anchor="start" letter-spacing="0.55" >08</text>
<path d="M323.35 478.00L327.35 466.30" stroke="#6f7690" stroke-width="1.05" fill="none"/>
<path d="M346.35 478.00L350.35 466.30" stroke="#6f7690" stroke-width="1.05" fill="none"/>
<text x="295.45" y="656.8" font-size="12" fill="#6f7690" text-anchor="start" letter-spacing="0.38" >2021</text>
<text x="329.20" y="656.8" font-size="12" fill="#6f7690" text-anchor="start" letter-spacing="0.38" >11</text>
<text x="349.60" y="656.8" font-size="12" fill="#6f7690" text-anchor="start" letter-spacing="0.38" >08</text>
<path d="M323.90 657.80L328.10 645.90" stroke="#6f7690" stroke-width="1.0" fill="none"/>
<path d="M343.85 657.80L348.05 645.90" stroke="#6f7690" stroke-width="1.0" fill="none"/>
<text x="295.45" y="791.9" font-size="12" fill="#6f7690" text-anchor="start" letter-spacing="0.38" >2021</text>
<text x="329.20" y="791.9" font-size="12" fill="#6f7690" text-anchor="start" letter-spacing="0.38" >11</text>
<text x="349.60" y="791.9" font-size="12" fill="#6f7690" text-anchor="start" letter-spacing="0.38" >08</text>
<path d="M323.90 792.90L328.10 781.00" stroke="#6f7690" stroke-width="1.0" fill="none"/>
<path d="M343.85 792.90L348.05 781.00" stroke="#6f7690" stroke-width="1.0" fill="none"/>
<text x="529.20" y="477" font-size="13" fill="#6f7690" text-anchor="start" letter-spacing="0.55" >2021</text>
<text x="568.40" y="477" font-size="13" fill="#6f7690" text-anchor="start" letter-spacing="0.55" >12</text>
<text x="591.20" y="477" font-size="13" fill="#6f7690" text-anchor="start" letter-spacing="0.55" >22</text>
<path d="M562.35 478.00L566.35 466.30" stroke="#6f7690" stroke-width="1.05" fill="none"/>
<path d="M585.35 478.00L589.35 466.30" stroke="#6f7690" stroke-width="1.05" fill="none"/>
<text x="534.45" y="656.8" font-size="12" fill="#6f7690" text-anchor="start" letter-spacing="0.38" >2021</text>
<text x="568.20" y="656.8" font-size="12" fill="#6f7690" text-anchor="start" letter-spacing="0.38" >12</text>
<text x="588.60" y="656.8" font-size="12" fill="#6f7690" text-anchor="start" letter-spacing="0.38" >22</text>
<path d="M562.90 657.80L567.10 645.90" stroke="#6f7690" stroke-width="1.0" fill="none"/>
<path d="M582.85 657.80L587.05 645.90" stroke="#6f7690" stroke-width="1.0" fill="none"/>
<text x="534.45" y="791.9" font-size="12" fill="#6f7690" text-anchor="start" letter-spacing="0.38" >2021</text>
<text x="568.20" y="791.9" font-size="12" fill="#6f7690" text-anchor="start" letter-spacing="0.38" >12</text>
<text x="588.60" y="791.9" font-size="12" fill="#6f7690" text-anchor="start" letter-spacing="0.38" >22</text>
<path d="M562.90 792.90L567.10 781.00" stroke="#6f7690" stroke-width="1.0" fill="none"/>
<path d="M582.85 792.90L587.05 781.00" stroke="#6f7690" stroke-width="1.0" fill="none"/>
<text x="768.20" y="477" font-size="13" fill="#6f7690" text-anchor="start" letter-spacing="0.55" >2022</text>
<text x="807.40" y="477" font-size="13" fill="#6f7690" text-anchor="start" letter-spacing="0.55" >02</text>
<text x="830.20" y="477" font-size="13" fill="#6f7690" text-anchor="start" letter-spacing="0.55" >04</text>
<path d="M801.35 478.00L805.35 466.30" stroke="#6f7690" stroke-width="1.05" fill="none"/>
<path d="M824.35 478.00L828.35 466.30" stroke="#6f7690" stroke-width="1.05" fill="none"/>
<text x="773.45" y="656.8" font-size="12" fill="#6f7690" text-anchor="start" letter-spacing="0.38" >2022</text>
<text x="807.20" y="656.8" font-size="12" fill="#6f7690" text-anchor="start" letter-spacing="0.38" >02</text>
<text x="827.60" y="656.8" font-size="12" fill="#6f7690" text-anchor="start" letter-spacing="0.38" >04</text>
<path d="M801.90 657.80L806.10 645.90" stroke="#6f7690" stroke-width="1.0" fill="none"/>
<path d="M821.85 657.80L826.05 645.90" stroke="#6f7690" stroke-width="1.0" fill="none"/>
<text x="773.45" y="791.9" font-size="12" fill="#6f7690" text-anchor="start" letter-spacing="0.38" >2022</text>
<text x="807.20" y="791.9" font-size="12" fill="#6f7690" text-anchor="start" letter-spacing="0.38" >02</text>
<text x="827.60" y="791.9" font-size="12" fill="#6f7690" text-anchor="start" letter-spacing="0.38" >04</text>
<path d="M801.90 792.90L806.10 781.00" stroke="#6f7690" stroke-width="1.0" fill="none"/>
<path d="M821.85 792.90L826.05 781.00" stroke="#6f7690" stroke-width="1.0" fill="none"/>
<text x="1007.20" y="477" font-size="13" fill="#6f7690" text-anchor="start" letter-spacing="0.55" >2022</text>
<text x="1046.40" y="477" font-size="13" fill="#6f7690" text-anchor="start" letter-spacing="0.55" >03</text>
<text x="1069.20" y="477" font-size="13" fill="#6f7690" text-anchor="start" letter-spacing="0.55" >22</text>
<path d="M1040.35 478.00L1044.35 466.30" stroke="#6f7690" stroke-width="1.05" fill="none"/>
<path d="M1063.35 478.00L1067.35 466.30" stroke="#6f7690" stroke-width="1.05" fill="none"/>
<text x="1012.45" y="656.8" font-size="12" fill="#6f7690" text-anchor="start" letter-spacing="0.38" >2022</text>
<text x="1046.20" y="656.8" font-size="12" fill="#6f7690" text-anchor="start" letter-spacing="0.38" >03</text>
<text x="1066.60" y="656.8" font-size="12" fill="#6f7690" text-anchor="start" letter-spacing="0.38" >22</text>
<path d="M1040.90 657.80L1045.10 645.90" stroke="#6f7690" stroke-width="1.0" fill="none"/>
<path d="M1060.85 657.80L1065.05 645.90" stroke="#6f7690" stroke-width="1.0" fill="none"/>
<text x="1012.45" y="791.9" font-size="12" fill="#6f7690" text-anchor="start" letter-spacing="0.38" >2022</text>
<text x="1046.20" y="791.9" font-size="12" fill="#6f7690" text-anchor="start" letter-spacing="0.38" >03</text>
<text x="1066.60" y="791.9" font-size="12" fill="#6f7690" text-anchor="start" letter-spacing="0.38" >22</text>
<path d="M1040.90 792.90L1045.10 781.00" stroke="#6f7690" stroke-width="1.0" fill="none"/>
<path d="M1060.85 792.90L1065.05 781.00" stroke="#6f7690" stroke-width="1.0" fill="none"/>
<text x="1246.20" y="477" font-size="13" fill="#6f7690" text-anchor="start" letter-spacing="0.55" >2022</text>
<text x="1285.40" y="477" font-size="13" fill="#6f7690" text-anchor="start" letter-spacing="0.55" >05</text>
<text x="1308.20" y="477" font-size="13" fill="#6f7690" text-anchor="start" letter-spacing="0.55" >01</text>
<path d="M1279.35 478.00L1283.35 466.30" stroke="#6f7690" stroke-width="1.05" fill="none"/>
<path d="M1302.35 478.00L1306.35 466.30" stroke="#6f7690" stroke-width="1.05" fill="none"/>
<text x="1251.45" y="656.8" font-size="12" fill="#6f7690" text-anchor="start" letter-spacing="0.38" >2022</text>
<text x="1285.20" y="656.8" font-size="12" fill="#6f7690" text-anchor="start" letter-spacing="0.38" >05</text>
<text x="1305.60" y="656.8" font-size="12" fill="#6f7690" text-anchor="start" letter-spacing="0.38" >01</text>
<path d="M1279.90 657.80L1284.10 645.90" stroke="#6f7690" stroke-width="1.0" fill="none"/>
<path d="M1299.85 657.80L1304.05 645.90" stroke="#6f7690" stroke-width="1.0" fill="none"/>
<text x="1251.45" y="791.9" font-size="12" fill="#6f7690" text-anchor="start" letter-spacing="0.38" >2022</text>
<text x="1285.20" y="791.9" font-size="12" fill="#6f7690" text-anchor="start" letter-spacing="0.38" >05</text>
<text x="1305.60" y="791.9" font-size="12" fill="#6f7690" text-anchor="start" letter-spacing="0.38" >01</text>
<path d="M1279.90 792.90L1284.10 781.00" stroke="#6f7690" stroke-width="1.0" fill="none"/>
<path d="M1299.85 792.90L1304.05 781.00" stroke="#6f7690" stroke-width="1.0" fill="none"/>
<text x="-4.1" y="502" font-size="13" fill="#2f6bff" text-anchor="start" letter-spacing="0.3" >3</text>
<text x="13.2" y="502" font-size="13" fill="#2f6bff" text-anchor="start" letter-spacing="0.4" >MACD:6.68339</text>
<text x="-3.5" y="681.5" font-size="13" fill="#ff5c5c" text-anchor="start" letter-spacing="0.45" >305</text>
<text x="29.0" y="681.5" font-size="13" fill="#3b6cff" text-anchor="start" letter-spacing="0.1" >RSI<tspan dx="0.8">(</tspan><tspan dx="0.6">24</tspan><tspan dx="0.6">)</tspan><tspan dx="0.6">:57.4260</tspan></text>
<path d="M941.2 4.1h60.6a3 3 0 0 1 3 3v19.8a3 3 0 0 1 -3 3h-21.3l-9 9.9l-9 -9.9h-21.3a3 3 0 0 1 -3 -3v-19.8a3 3 0 0 1 3 -3z" fill="#eaecef"/>
<text x="970.6" y="21.8" font-size="13" fill="#262626" text-anchor="middle" letter-spacing="0.45" stroke="#262626" stroke-width="0.25">2070.15</text>
<path d="M1492 118.7L1499.7 109H1567V128.9H1499.7z" fill="#35b680"/>
<text x="1504.4" y="123.9" font-size="15" fill="#ffffff" text-anchor="start" letter-spacing="-0.5" >1978.60</text>
<rect x="0" y="804" width="1567" height="24" fill="#f3f4f6"/>
<rect x="787.2" y="804" width="257.7" height="23.8" rx="2.5" fill="#dfe2ea"/>
<path d="M128.15 812.75L131.05 810.75M131.25 810.2V820.8" fill="none" stroke="#71778f" stroke-width="1.35"/>
<text x="135.7" y="820.8" font-size="15" fill="#71778f" text-anchor="start" letter-spacing="0" >5</text>
<g transform="translate(143.5 809.6)" fill="none" stroke="#71778f" stroke-width="1.15" stroke-linecap="round" stroke-linejoin="round"><path d="M5.3 0.4C4.2 2.6 2.6 4.2 0.5 5.4"/><path d="M8.3 0.4C9.2 2.4 10.8 4 12.8 5.3"/><path d="M2.2 5.8H10.4C10.4 8.5 10.2 10.3 9.7 11.3C9.3 12 8.6 12.1 5.5 12.1"/><path d="M5.3 6C5 8.8 3.6 10.8 0.8 12.3"/></g>
<path d="M390.25 812.75L393.15 810.75M393.35 810.2V820.8" fill="none" stroke="#71778f" stroke-width="1.35"/>
<g transform="translate(398.1 809.9)" fill="none" stroke="#71778f" stroke-width="1.1" stroke-linecap="round" stroke-linejoin="round"><path d="M0.5 1V11.3M0.5 1H3.7V11.3M0.5 5.6H3.7M0.5 9.8H3.7"/><path d="M4.9 2.6H12.9"/><path d="M10.3 0.2V11C10.3 11.8 10 11.9 6.9 11.9"/><path d="M5.6 5.4L7.8 8.9"/></g>
<text x="647.4" y="820.8" font-size="15" fill="#71778f" text-anchor="start" letter-spacing="0" >4</text>
<g transform="translate(656.1 809.9)" fill="none" stroke="#71778f" stroke-width="1.1" stroke-linecap="round" stroke-linejoin="round"><path d="M0.5 1V11.3M0.5 1H3.7V11.3M0.5 5.6H3.7M0.5 9.8H3.7"/><path d="M4.9 2.6H12.9"/><path d="M10.3 0.2V11C10.3 11.8 10 11.9 6.9 11.9"/><path d="M5.6 5.4L7.8 8.9"/></g>
<g transform="translate(905.5 809.8)" fill="none" stroke="#71778f" stroke-width="1.15" stroke-linecap="round" stroke-linejoin="round"><path d="M1.6 0.8H9.6V11.8M1.6 0.8V11.8M1.6 5.8H9.6M1.6 10.8H9.6"/></g>
<text x="917.6" y="820.8" font-size="15" fill="#71778f" text-anchor="start" letter-spacing="0" >K</text>
<g transform="translate(1163.3 810.0)" fill="none" stroke="#71778f" stroke-width="1.15" stroke-linecap="round" stroke-linejoin="round"><path d="M2.1 0.4H9.1V10.8C9.1 11.6 8.8 11.7 6.4 11.7"/><path d="M2.1 0.4V7C2.1 9 1.6 10.6 0.6 11.8"/><path d="M2.1 3.4H9.1M2.1 7.5H9.1"/></g>
<text x="1175.6" y="820.8" font-size="15" fill="#71778f" text-anchor="start" letter-spacing="0" >K</text>
<path d="M1422.30 812.75L1425.20 810.75M1425.40 810.2V820.8" fill="none" stroke="#71778f" stroke-width="1.35"/>
<g transform="translate(1429.3 809.6)" fill="none" stroke="#71778f" stroke-width="1.15" stroke-linecap="round" stroke-linejoin="round"><path d="M5.3 0.4C4.2 2.6 2.6 4.2 0.5 5.4"/><path d="M8.3 0.4C9.2 2.4 10.8 4 12.8 5.3"/><path d="M2.2 5.8H10.4C10.4 8.5 10.2 10.3 9.7 11.3C9.3 12 8.6 12.1 5.5 12.1"/><path d="M5.3 6C5 8.8 3.6 10.8 0.8 12.3"/></g>
<path d="M1444.5 817.8L1449 813L1453.5 817.8z" fill="#858aa0"/>
</svg>
</body></html>
